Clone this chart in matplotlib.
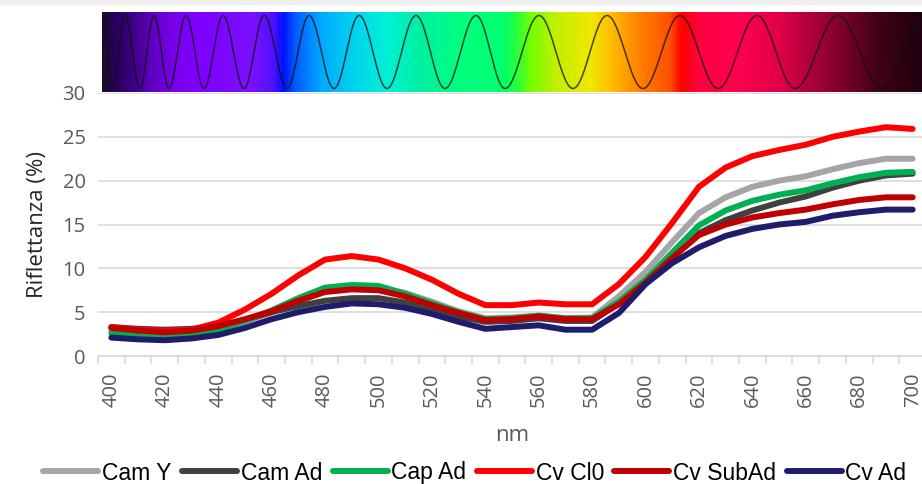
import numpy as np
import matplotlib
matplotlib.use("Agg")
import matplotlib.pyplot as plt
from matplotlib.colors import LinearSegmentedColormap

plt.rcParams["font.family"] = ["Open Sans", "DejaVu Sans"]

# wavelengths (nm), one category every 10 nm
wavelengths = list(range(400, 701, 10))

cam_y = [2.9, 2.7, 2.5, 2.6, 3.1, 3.9, 5.0, 6.2, 7.4, 7.8, 7.8, 7.2, 6.2, 5.1, 4.3, 4.4,
         4.6, 4.3, 4.4, 6.8, 9.6, 13.0, 16.3, 18.1, 19.3, 20.0, 20.5, 21.3, 22.0, 22.5, 22.5]
cam_ad = [3.3, 3.1, 3.0, 3.1, 3.4, 4.1, 5.0, 5.7, 6.3, 6.6, 6.6, 6.1, 5.3, 4.5, 3.9, 4.0,
          4.3, 4.0, 4.0, 6.0, 8.5, 11.5, 14.0, 15.5, 16.6, 17.5, 18.2, 19.2, 20.0, 20.6, 20.8]
cap_ad = [2.6, 2.4, 2.3, 2.5, 3.0, 4.0, 5.2, 6.6, 7.8, 8.1, 8.0, 7.1, 6.0, 5.0, 4.2, 4.3,
          4.6, 4.3, 4.3, 6.2, 8.7, 11.8, 14.9, 16.6, 17.7, 18.4, 18.9, 19.7, 20.4, 20.9, 21.0]
cv_cl0 = [3.3, 3.0, 2.9, 3.0, 3.8, 5.3, 7.1, 9.2, 11.0, 11.4, 11.0, 10.0, 8.7, 7.1, 5.8, 5.8,
          6.1, 5.9, 5.9, 8.2, 11.3, 15.2, 19.3, 21.5, 22.8, 23.5, 24.1, 25.0, 25.6, 26.1, 25.9]
cv_subad = [3.2, 2.9, 2.7, 2.9, 3.4, 4.2, 5.1, 6.3, 7.3, 7.6, 7.5, 6.8, 5.8, 4.9, 4.1, 4.2,
            4.5, 4.2, 4.2, 5.9, 8.4, 11.2, 13.8, 15.0, 15.8, 16.3, 16.7, 17.3, 17.8, 18.1, 18.1]
cv_ad = [2.1, 1.9, 1.8, 2.0, 2.4, 3.2, 4.2, 5.0, 5.6, 6.0, 5.9, 5.5, 4.8, 3.9, 3.1, 3.3,
         3.5, 3.0, 3.0, 4.9, 8.2, 10.6, 12.4, 13.7, 14.5, 15.0, 15.3, 16.0, 16.4, 16.7, 16.7]

series_names = ["Cam Y", "Cam Ad", "Cap Ad", "Cv Cl0", "Cv SubAd", "Cv Ad"]
series_values = [cam_y, cam_ad, cap_ad, cv_cl0, cv_subad, cv_ad]
series_colors = ["#A5A5A5", "#404040", "#00B050", "#FF0000", "#C00000", "#1F1C6B"]

W, H = 922, 484
fig = plt.figure(figsize=(W / 100, H / 100), dpi=100)

# main axes (Excel plot area runs a bit past the right edge of the picture)
ax = fig.add_axes([98 / W, 1 - 356 / H, 828 / W, 263 / H])
for name, vals, col in zip(series_names, series_values, series_colors):
    ax.plot(wavelengths, vals, color=col, lw=4.3, label=name,
            solid_joinstyle="round", solid_capstyle="round", clip_on=False)

ax.set_xlim(395, 705)
ax.set_ylim(0, 30)
ax.set_yticks(range(0, 31, 5))
ax.set_xticks(range(400, 701, 20))
ax.set_xticks(np.arange(395, 706, 10), minor=True)
ax.grid(axis="y", color="#D9D9D9", lw=1.2)
ax.set_axisbelow(True)
for s in ["top", "right", "left"]:
    ax.spines[s].set_visible(False)
ax.spines["bottom"].set_color("#D9D9D9")
ax.spines["bottom"].set_linewidth(1.2)
ax.tick_params(axis="y", length=0, pad=9, labelsize=14.5, labelcolor="#595959")
ax.tick_params(axis="x", which="major", length=0, pad=12, labelsize=14.5,
               labelcolor="#595959", labelrotation=90)
ax.tick_params(axis="x", which="minor", length=6, color="#D9D9D9", width=1.2)
ax.set_ylabel("Riflettanza (%)", fontsize=16, color="#262626", labelpad=10)
ax.set_xlabel("nm", fontsize=16, color="#595959", labelpad=13)

fig.legend(loc="center", bbox_to_anchor=(0.515, 1 - 473 / H), ncol=6, frameon=False,
           prop={"family": ["Liberation Sans Narrow", "Liberation Sans"], "size": 16.5},
           handlelength=2.4, handletextpad=0.17, columnspacing=0.45,
           labelcolor="#000000", borderaxespad=0)

# light strip at the very top
fig.patches.append(plt.Rectangle((0, 1 - 4 / H), 1, 4 / H, transform=fig.transFigure,
                                 color="#F0F0F0", zorder=0))

# spectrum band with chirped wave (decoration)
band = fig.add_axes([102 / W, 1 - 92 / H, 820 / W, 80 / H])
stops = [
    (0, "#1c0a30"), (13, "#2a0060"), (28, "#3a0080"), (48, "#6000c0"), (73, "#7a00f0"),
    (98, "#8000ff"), (150, "#7a10ff"), (170, "#5010ff"), (180, "#0010ff"), (193, "#0060ff"),
    (218, "#00a8ff"), (248, "#00d0f0"), (283, "#00f0d8"), (318, "#00f0a0"), (358, "#00ff80"),
    (400, "#00ff70"), (413, "#20ff40"), (428, "#70ff00"), (453, "#c0f000"), (488, "#f0e800"),
    (508, "#ffc000"), (538, "#ff8000"), (568, "#ff5000"), (580, "#ff0000"), (598, "#ff0040"),
    (638, "#ff0050"), (678, "#e00048"), (718, "#a00038"), (748, "#700028"), (778, "#400018"),
    (798, "#300010"), (820, "#200010"),
]
cmap = LinearSegmentedColormap.from_list("spec", [(p / 820, c) for p, c in stops])
band.imshow(np.linspace(0, 1, 820)[None, :], cmap=cmap, aspect="auto",
            extent=(0, 820, 0, 80), interpolation="bilinear")
extrema = [102, 113, 125, 140, 154, 169, 186, 204, 223, 244, 264, 287, 309, 334, 359, 387,
           416, 445, 476, 505, 539, 573, 607, 643, 680, 718, 757, 795, 838, 882, 926]
px = np.linspace(102, 922, 1600)
phase = np.interp(px, extrema, np.arange(len(extrema)) * np.pi)
band.plot(px - 102, 40 + 36.5 * np.cos(phase), color="#101010", lw=1.1, alpha=0.75)
band.set_xlim(0, 820)
band.set_ylim(0, 80)
band.axis("off")

fig.savefig("out.png", dpi=100)
